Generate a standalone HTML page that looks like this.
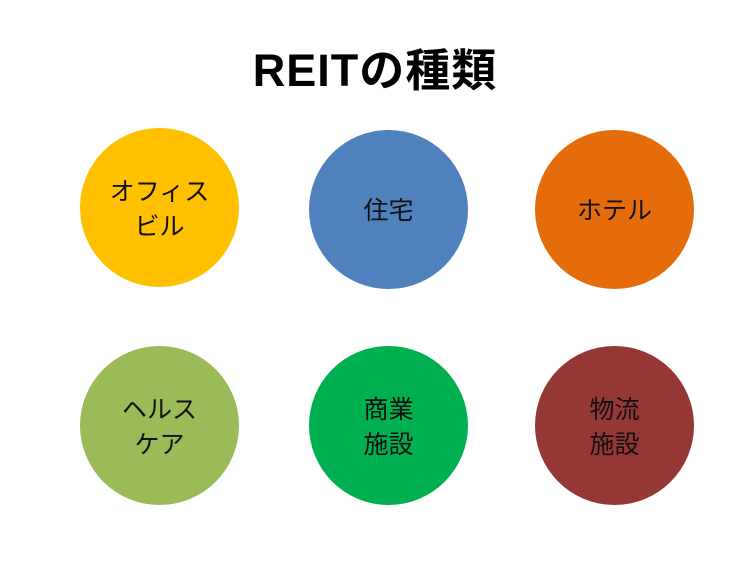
<!DOCTYPE html>
<html><head><meta charset="utf-8"><style>
html,body{margin:0;padding:0;background:#fff;}
body{width:750px;height:563px;position:relative;overflow:hidden;font-family:"Liberation Sans","Noto Sans CJK JP",sans-serif;}
.t{position:absolute;left:0;width:750px;top:46px;text-align:center;font-size:45px;font-weight:bold;line-height:50px;color:#000;letter-spacing:1px;}
.c{position:absolute;width:159px;height:159px;border-radius:50%;display:flex;align-items:center;justify-content:center;text-align:center;font-size:25px;line-height:35px;color:#111;padding-top:4px;box-sizing:border-box;}
</style></head><body>
<div class="t">REITの種類</div>
<div class="c" style="left:80px;top:128px;background:#FFC000">オフィス<br>ビル</div>
<div class="c" style="left:309px;top:130px;background:#4F81BD">住宅</div>
<div class="c" style="left:535px;top:130px;background:#E46C0A">ホテル</div>
<div class="c" style="left:80px;top:346px;background:#9BBB59">ヘルス<br>ケア</div>
<div class="c" style="left:309px;top:346px;background:#00B050">商業<br>施設</div>
<div class="c" style="left:535px;top:346px;background:#953735">物流<br>施設</div>
</body></html>
